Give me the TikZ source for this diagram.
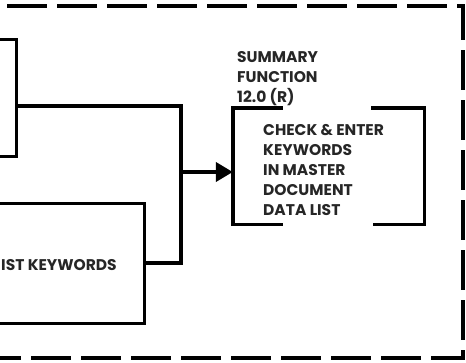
\documentclass[tikz,border=0pt]{standalone}
\usepackage{fontspec}
\setmainfont{Poppins}
\usetikzlibrary{arrows.meta}
\tikzset{
  frameline/.style={line width=3.6pt, dash pattern=on 40pt off 10pt},
  boxline/.style={draw, line width=3pt, inner sep=0pt},
  conn/.style={line width=4pt},
  bracket/.style={line width=3.4pt},
  lbl/.style={inner sep=0pt, align=left, text=black!85,
              font=\fontsize{15.5}{20}\selectfont\bfseries},
}
\begin{document}
\begin{tikzpicture}[x=1pt, y=-1pt]
  \useasboundingbox (0,0) rectangle (466,362);
  \clip (0,0) rectangle (466,362);

  % dashed outline of the process group
  \draw[frameline] (7,6) -- (463,6) -- (463,358) -- (0,358);

  % incoming process boxes
  \node[boxline, minimum width=76pt, minimum height=117pt] (box1) at (-22,97.5) {};
  \node[boxline, minimum width=244pt, minimum height=120pt] (box2) at (22,263) {};
  \node[lbl, anchor=base west] (kw) at (1,270) {IST KEYWORDS};

  % summary function box (open brackets)
  \node[minimum width=191pt, minimum height=116pt, inner sep=0pt] (sumbox) at (328.5,166) {};
  \draw[bracket] ([xshift=50pt]sumbox.north west) -- (sumbox.north west)
                 -- (sumbox.south west) -- ([xshift=50pt]sumbox.south west);
  \draw[bracket] ([xshift=-53pt]sumbox.north east) -- (sumbox.north east)
                 -- (sumbox.south east) -- ([xshift=-51pt]sumbox.south east);

  % the base anchor of a multi-line node sits on its last line
  \node[lbl, anchor=base west] (sumtitle) at (237,102) {SUMMARY\\FUNCTION\\12.0 (R)};
  \node[lbl, anchor=base west] (sumtext) at (263,215)
       {CHECK \& ENTER\\KEYWORDS\\IN MASTER\\DOCUMENT\\DATA LIST};

  % merging connectors
  \coordinate (jtop) at (181,106);
  \coordinate (jmid) at (181,172);
  \coordinate (jbot) at (181,263);
  \draw[conn] (box1.east |- jtop) -- (jtop) -- (jbot) -- (box2.east |- jbot);
  \draw[conn, -{Triangle[length=17pt, width=19pt]}] (jmid) -- (sumbox.west |- jmid);
\end{tikzpicture}
\end{document}
